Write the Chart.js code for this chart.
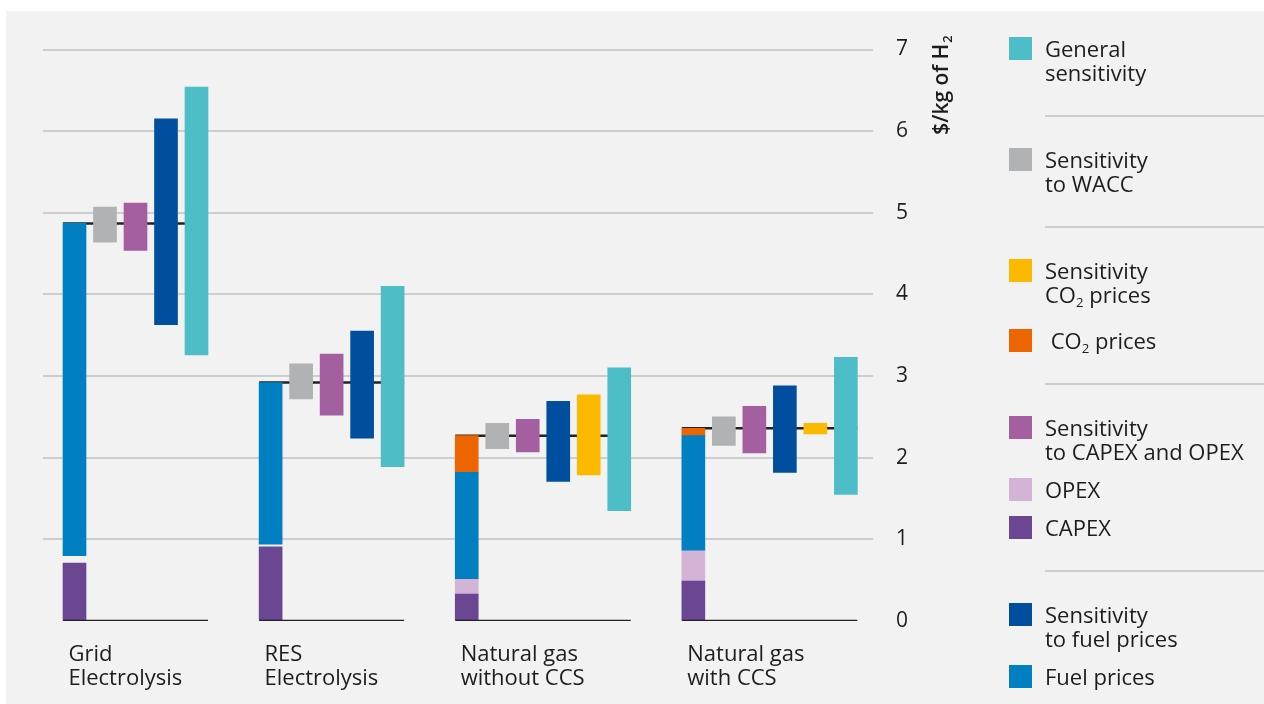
<!DOCTYPE html>
<html>
<head>
<meta charset="utf-8">
<title>Levelised cost of hydrogen by production route</title>
<script src="https://cdn.jsdelivr.net/npm/chart.js@4.4.1/dist/chart.umd.min.js"></script>
<style>
  html, body { margin: 0; padding: 0; background: #ffffff; }
  body { width: 1264px; height: 704px; position: relative; overflow: hidden;
         font-family: "Open Sans", Lato, sans-serif; color: #1d1d1b; }
  #panel { position: absolute; left: 6px; top: 11px; right: 0; bottom: 0; background: #f2f2f2; }
  #chartBox { position: absolute; left: 0; top: 0; width: 1264px; height: 704px; }
  #legend { position: absolute; left: 1009px; top: 37px; width: 255px; }
  .lg-item { display: flex; align-items: flex-start; }
  .lg-item + .lg-item { margin-top: 14px; }
  .lg-item.wide-gap + .lg-item { margin-top: 22px; }
  .lg-swatch { width: 23px; height: 23px; flex: none; margin-right: 13px; }
  .lg-text { font-size: 22px; font-weight: 500; line-height: 24px; position: relative; top: -1px; white-space: nowrap; }
  .lg-sep { height: 2px; background: #cdcdcd; margin: 30px 0 31px 36px; }
  sub { font-size: 0.6em; line-height: 0; vertical-align: baseline; position: relative; top: 0.3em; }
</style>
</head>
<body>
<div id="panel"></div>
<div id="chartBox"><canvas id="chart" width="1264" height="704"></canvas></div>
<div id="legend"></div>
<script>
// Production routes and their two-line axis labels
const categories = ['Grid Electrolysis', 'RES Electrolysis', 'Natural gas without CCS', 'Natural gas with CCS'];
const categoryLabels = [['Grid', 'Electrolysis'], ['RES', 'Electrolysis'], ['Natural gas', 'without CCS'], ['Natural gas', 'with CCS']];

// Cost build-up, $/kg of H2
const capex      = [0.71, 0.91, 0.33, 0.49];
const opex       = [0.09, 0.03, 0.18, 0.37];
const fuelPrices = [4.07, 1.98, 1.31, 1.41];
const co2Prices  = [0,    0,    0.45, 0.09];

// Sensitivity ranges [low, high], $/kg of H2
const sensWacc       = [[4.64, 5.07], [2.72, 3.15], [2.11, 2.42], [2.15, 2.50]];
const sensCapexOpex  = [[4.54, 5.12], [2.52, 3.27], [2.07, 2.47], [2.06, 2.63]];
const sensFuel       = [[3.63, 6.15], [2.24, 3.55], [1.71, 2.69], [1.82, 2.88]];
const sensCo2        = [null, null, [1.79, 2.77], [2.29, 2.42]];
const sensGeneral    = [[3.26, 6.54], [1.89, 4.10], [1.35, 3.10], [1.55, 3.23]];

const yTicks = [0, 1, 2, 3, 4, 5, 6, 7];

// ---- styling ----
const COLORS = {
  capex: '#6b4693', opex: '#d3b3d6', fuel: '#007fc3', co2: '#ec6500',
  wacc: '#b1b2b4', capexSens: '#a45fa1', fuelSens: '#004f9e', co2Sens: '#fbba00', general: '#4dbdc8'
};
const TEXT = '#1d1d1b';
const FONT = '"Open Sans", Lato, sans-serif';
const GROUP_GAP = 2.43;   // empty slots between route groups
const HALF_BAR = 0.377;   // half bar width in slot units

// Sensitivity series in drawing order within a group
const sensSeries = [
  { key: 'wacc',      label: 'Sensitivity to WACC',            values: sensWacc },
  { key: 'capexSens', label: 'Sensitivity to CAPEX and OPEX',  values: sensCapexOpex },
  { key: 'fuelSens',  label: 'Sensitivity to fuel prices',     values: sensFuel },
  { key: 'co2Sens',   label: 'Sensitivity CO₂ prices',         values: sensCo2 },
  { key: 'general',   label: 'General sensitivity',            values: sensGeneral }
];

// Slot positions along the x scale: stacked cost bar first, then each present sensitivity
const slots = [];
let cursor = 0;
categories.forEach((c, i) => {
  const s = { first: cursor };
  let k = 0;
  s.stack = cursor + k++;
  sensSeries.forEach(ser => { if (ser.values[i]) s[ser.key] = cursor + k++; });
  s.last = cursor + k - 1;
  slots.push(s);
  cursor = s.last + GROUP_GAP;
});

// Cumulative stack: CAPEX -> OPEX -> fuel -> CO2
const components = [
  { key: 'capex', label: 'CAPEX', values: capex },
  { key: 'opex',  label: 'OPEX', values: opex },
  { key: 'fuel',  label: 'Fuel prices', values: fuelPrices },
  { key: 'co2',   label: 'CO₂ prices', values: co2Prices }
];
const totals = categories.map(() => 0);
const stackDatasets = components.map(comp => {
  const data = [];
  categories.forEach((c, i) => {
    const lo = totals[i];
    totals[i] = +(lo + comp.values[i]).toFixed(4);
    if (comp.values[i] > 0) data.push({ x: slots[i].stack, y: [lo, totals[i]] });
  });
  return {
    type: 'bar', label: comp.label, data,
    // electrolysis OPEX is left unshaded, gas-route OPEX is filled
    backgroundColor: comp.key === 'opex'
      ? (ctx => (ctx.raw && ctx.raw.x >= slots[2].first) ? COLORS.opex : 'rgba(0,0,0,0)')
      : COLORS[comp.key],
    order: 1
  };
});

const sensDatasets = sensSeries.map(ser => ({
  type: 'bar', label: ser.label,
  data: ser.values.map((v, i) => v ? { x: slots[i][ser.key], y: v } : null).filter(Boolean),
  backgroundColor: COLORS[ser.key],
  order: 1
}));

// Total cost marker and zero baseline under each group
const lineDatasets = [];
categories.forEach((c, i) => {
  const x0 = slots[i].first - HALF_BAR, x1 = slots[i].last + HALF_BAR;
  lineDatasets.push({
    type: 'line', label: c + ' total', data: [{ x: x0, y: totals[i] }, { x: x1, y: totals[i] }],
    borderColor: '#222222', borderWidth: 2.5, pointRadius: 0, order: 10
  });
  lineDatasets.push({
    type: 'line', label: c + ' baseline', data: [{ x: x0, y: 0 }, { x: x1, y: 0 }],
    borderColor: '#222222', borderWidth: 2.6, pointRadius: 0, order: 0
  });
});

// Rotated axis title with subscript, placed at the top of the value axis
const axisTitle = {
  id: 'axisTitle',
  afterDraw(chart) {
    const { ctx } = chart;
    const y = chart.scales.y;
    ctx.save();
    ctx.fillStyle = TEXT;
    ctx.translate(948, y.getPixelForValue(7) + 36);
    ctx.rotate(-Math.PI / 2);
    ctx.font = '600 21px ' + FONT;
    const main = '$/kg of H';
    const w1 = ctx.measureText(main).width;
    ctx.font = '600 13px ' + FONT;
    const w2 = ctx.measureText('2').width;
    const start = -(w1 + w2) / 2;
    ctx.textBaseline = 'alphabetic';
    ctx.font = '600 21px ' + FONT;
    ctx.fillText(main, start, 0);
    ctx.font = '600 13px ' + FONT;
    ctx.fillText('2', start + w1 + 1, 4);
    ctx.restore();
  }
};

const chart = new Chart(document.getElementById('chart'), {
  type: 'bar',
  data: { datasets: [...lineDatasets, ...stackDatasets, ...sensDatasets] },
  options: {
    responsive: false,
    animation: false,
    layout: { padding: { left: 43, top: 49.5, right: 291, bottom: 0 } },
    datasets: { bar: { barThickness: 23, grouped: false, borderWidth: 0 } },
    plugins: { legend: { display: false }, tooltip: { enabled: false }, title: { display: false } },
    scales: {
      x: {
        type: 'linear',
        offset: false,
        bounds: 'data',
        min: -1.033, max: 26.18,
        grid: { display: false, offset: false },
        border: { display: false },
        afterBuildTicks: scale => { scale.ticks = slots.map(s => ({ value: s.first - 0.2 })); },
        afterFit: scale => { scale.height = 83; },
        ticks: {
          autoSkip: false, maxRotation: 0, minRotation: 0, align: 'start', padding: 14,
          color: TEXT, font: { family: FONT, size: 22, weight: '500', lineHeight: 24 / 22 },
          callback: (v, i) => categoryLabels[i]
        }
      },
      y: {
        type: 'linear', position: 'right',
        min: yTicks[0], max: yTicks[yTicks.length - 1],
        afterBuildTicks: scale => { scale.ticks = yTicks.map(v => ({ value: v })); },
        afterFit: scale => { scale.width = 100; },
        grid: {
          drawTicks: false, lineWidth: 2,
          color: ctx => ctx.tick && ctx.tick.value === 0 ? 'rgba(0,0,0,0)' : '#cdcdcd'
        },
        border: { display: false },
        ticks: { padding: 23, color: TEXT, font: { family: FONT, size: 21, weight: '500' } }
      }
    }
  },
  plugins: [axisTitle]
});

// Legend, grouped with separators
const legendItems = {
  general:   { lines: ['General', 'sensitivity'] },
  wacc:      { lines: ['Sensitivity', 'to WACC'] },
  co2Sens:   { lines: ['Sensitivity', 'CO<sub>2</sub> prices'] },
  co2:       { lines: ['&nbsp;CO<sub>2</sub> prices'] },
  capexSens: { lines: ['Sensitivity', 'to CAPEX and OPEX'] },
  opex:      { lines: ['OPEX'] },
  capex:     { lines: ['CAPEX'] },
  fuelSens:  { lines: ['Sensitivity', 'to fuel prices'] },
  fuel:      { lines: ['Fuel prices'] }
};
const legendGroups = [['general'], ['wacc'], ['co2Sens', 'co2'], ['capexSens', 'opex', 'capex'], ['fuelSens', 'fuel']];
const legendEl = document.getElementById('legend');
legendEl.innerHTML = legendGroups.map(group =>
  '<div class="lg-group">' + group.map(key =>
    '<div class="lg-item' + (key === 'co2Sens' ? ' wide-gap' : '') + '">' +
      '<div class="lg-swatch" style="background:' + COLORS[key] + '"></div>' +
      '<div class="lg-text">' + legendItems[key].lines.join('<br>') + '</div>' +
    '</div>').join('') + '</div>'
).join('<div class="lg-sep"></div>');
</script>
</body>
</html>
